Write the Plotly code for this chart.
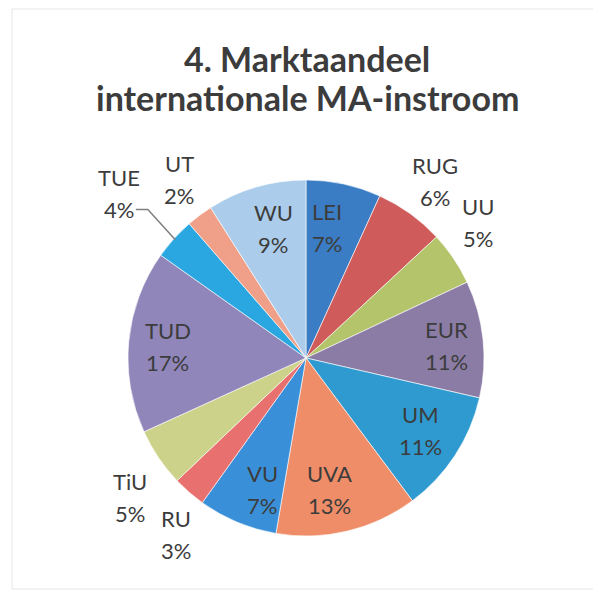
import math
import plotly.graph_objects as go

# ---- data ----
labels = ["LEI", "RUG", "UU", "EUR", "UM", "UVA", "VU", "RU", "TiU", "TUD", "TUE", "UT", "WU"]
values = [6.8, 6.3, 4.9, 10.6, 11.2, 12.9, 7.2, 3.0, 5.3, 16.6, 3.8, 2.4, 9.0]
title_lines = ["4. Marktaandeel", "internationale MA-instroom"]

# ---- style ----
colors = ["#3b7dc4", "#cf5b5b", "#b3c46b", "#8b7ca6", "#2f9ad0", "#ee8d68", "#3a90d8",
          "#e8706f", "#cdd28a", "#9086ba", "#2aa7e1", "#f0a088", "#abcdeb"]
# label placement: radial factor (x radius) and small angular tweak in degrees
label_rf = [0.74, 1.23, 1.23, 0.79, 0.76, 0.75, 0.78, 1.23, 1.26, 0.78, 1.40, 1.23, 0.75]
label_da = [-3.0, 0.3, -4.3, 1.2, -0.8, 3.2, -4.3, -4.7, -4.3, -0.5, -0.8, 1.4, 2.0]
leader = [False] * 10 + [True, False, False]

OFF = 8                      # page body margin of the html page
WIN_W, WIN_H = 601, 594
W, H = WIN_W - OFF, WIN_H - OFF
CX, CY, R = 306, 358, 178    # pie centre / radius in window pixels
TXT = "#3c3c3c"
FONT = "Lato"


def fx(x):
    return (x - OFF) / W


def fy(y):
    return (H - (y - OFF)) / H


fig = go.Figure(go.Pie(
    labels=labels, values=values, sort=False, direction="clockwise", rotation=0,
    marker=dict(colors=colors, line=dict(color="rgba(255,255,255,0.6)", width=1)),
    textinfo="none", hoverinfo="label+percent", showlegend=False,
    domain=dict(x=[fx(CX - R), fx(CX + R)], y=[fy(CY + R), fy(CY - R)]),
))

total = sum(values)
annotations = []
shapes = []
cum = 0.0
for lab, v, rf, da, ld in zip(labels, values, label_rf, label_da, leader):
    mid = (cum + v / 2) / total * 360.0
    cum += v
    a = math.radians(mid + da)
    px = CX + R * rf * math.sin(a)
    py = CY - R * rf * math.cos(a)
    pct = f"{v / total * 100:.0f}%"
    for txt, ys in ((lab, 16), (pct, -16)):
        annotations.append(dict(
            x=fx(px), y=fy(py), xref="paper", yref="paper", text=txt,
            showarrow=False, yshift=ys, xanchor="center", yanchor="middle",
            font=dict(family=FONT, size=22, color=TXT)))
    if ld:
        am = math.radians(mid)
        ex = CX + R * 0.99 * math.sin(am)
        ey = CY - R * 0.99 * math.cos(am)
        sx, sy = px + 17, py + 16
        kx = sx + 12
        path = f"M {fx(sx)} {fy(sy)} L {fx(kx)} {fy(sy)} L {fx(ex)} {fy(ey)}"
        shapes.append(dict(type="path", xref="paper", yref="paper", path=path,
                           line=dict(color="#7f7f7f", width=1.5)))

for line, yc in zip(title_lines, (59, 98)):
    annotations.append(dict(
        x=fx(307), y=fy(yc), xref="paper", yref="paper",
        text=line, showarrow=False, xanchor="center", yanchor="middle",
        font=dict(family=FONT, size=34, color=TXT, weight="bold")))

shapes.append(dict(type="rect", xref="paper", yref="paper",
                   x0=fx(12), x1=fx(599), y0=fy(589), y1=fy(9),
                   line=dict(color="#e6e6ea", width=1)))

fig.update_layout(
    width=W, height=H, margin=dict(l=0, r=0, t=0, b=0),
    paper_bgcolor="white", plot_bgcolor="white",
    annotations=annotations, shapes=shapes,
)
fig.write_html("out.html")
